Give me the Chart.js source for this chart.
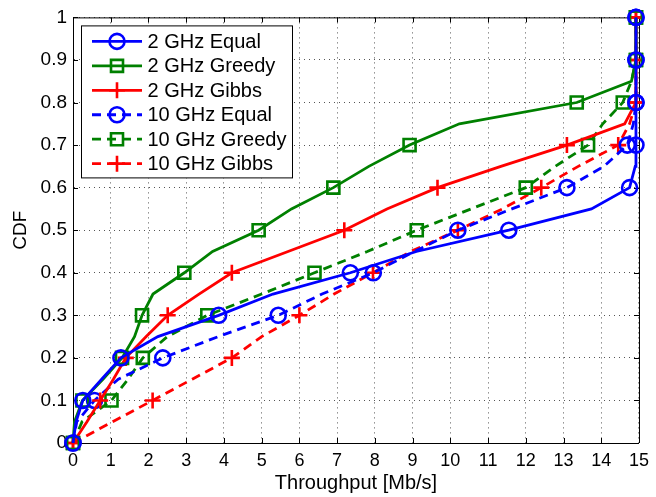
<!DOCTYPE html>
<html>
<head>
<meta charset="utf-8">
<script src="https://cdn.jsdelivr.net/npm/chart.js@4.4.0/dist/chart.umd.min.js"></script>
<style>
    html, body { margin: 0; padding: 0; background: #fff; }
    #wrap { width: 656px; height: 497px; }
</style>
</head>
<body>
<div id="wrap"><canvas id="cdfChart" width="656" height="497"></canvas></div>
<script>
// CDF levels (y) shared by all curves
var cdfLevels = [0, 0.05, 0.1, 0.15, 0.2, 0.25, 0.3, 0.35, 0.4, 0.45, 0.5,
                 0.55, 0.6, 0.65, 0.7, 0.75, 0.8, 0.85, 0.9, 0.95, 1];

// throughput (x) of each curve at those levels
var equal2GHz  = [0, 0.08, 0.26, 0.76, 1.27, 2.25, 3.86, 5.3, 7.35, 9.1, 11.55,
                  13.74, 14.75, 14.9, 14.92, 14.92, 14.92, 14.92, 14.92, 14.92, 14.92];
var greedy2GHz = [0, 0.04, 0.25, 0.8, 1.3, 1.63, 1.83, 2.12, 2.95, 3.7, 4.92,
                  5.79, 6.9, 7.84, 8.92, 10.24, 13.35, 14.8, 14.92, 14.92, 14.92];
var gibbs2GHz  = [0, 0.37, 0.72, 1.07, 1.4, 1.94, 2.51, 3.34, 4.21, 5.7, 7.19,
                  8.32, 9.66, 11.34, 13.09, 14.62, 14.92, 14.92, 14.92, 14.92, 14.92];
var equal10GHz  = [0, 0.1, 0.57, 1.2, 2.38, 3.85, 5.44, 6.6, 7.96, 9.05, 10.2,
                   11.63, 13.09, 14.07, 14.69, 14.85, 14.92, 14.92, 14.92, 14.92, 14.92];
var greedy10GHz = [0, 0.24, 1.02, 1.46, 1.85, 2.5, 3.56, 5.0, 6.4, 7.8, 9.11,
                   10.55, 12.0, 12.78, 13.65, 14.04, 14.57, 14.8, 14.92, 14.92, 14.92];
var gibbs10GHz  = [0, 1.05, 2.11, 3.16, 4.21, 5.0, 6.0, 6.92, 7.95, 8.95, 10.2,
                   11.38, 12.41, 13.39, 14.45, 14.75, 14.92, 14.92, 14.92, 14.92, 14.92];

var seriesLabels = ['2 GHz Equal', '2 GHz Greedy', '2 GHz Gibbs',
                    '10 GHz Equal', '10 GHz Greedy', '10 GHz Gibbs'];
var xTickValues = [0, 1, 2, 3, 4, 5, 6, 7, 8, 9, 10, 11, 12, 13, 14, 15];
var yTickValues = [0, 0.1, 0.2, 0.3, 0.4, 0.5, 0.6, 0.7, 0.8, 0.9, 1];

var fontFamily = "'Liberation Sans', Arial, Helvetica, sans-serif";
var blue = '#0000ff', green = '#008000', red = '#ff0000';
var dashPattern = [9, 6];

function toPoints(xs) {
    return xs.map(function (x, i) { return { x: x, y: cdfLevels[i] }; });
}

// markers only on every 0.1 step of the CDF
function markerRadius(r) {
    return function (ctx) {
        if (!ctx.raw) return r;
        var k = ctx.raw.y * 10;
        return Math.abs(k - Math.round(k)) < 1e-6 ? r : 0;
    };
}

function makeSet(i, xs, color, style, dashed) {
    var r = style === 'circle' ? 7.5 : (style === 'rect' ? 8.5 : 8);
    return {
        label: seriesLabels[i],
        data: toPoints(xs),
        borderColor: color,
        backgroundColor: 'transparent',
        borderWidth: 2.8,
        borderDash: dashed ? dashPattern : [],
        pointStyle: style,
        pointRadius: markerRadius(r),
        pointHoverRadius: markerRadius(r),
        pointBorderColor: color,
        pointBackgroundColor: 'transparent',
        pointBorderWidth: 2.6,
        tension: 0,
        clip: false
    };
}

var datasets = [
    makeSet(0, equal2GHz, blue, 'circle', false),
    makeSet(1, greedy2GHz, green, 'rect', false),
    makeSet(2, gibbs2GHz, red, 'cross', false),
    makeSet(3, equal10GHz, blue, 'circle', true),
    makeSet(4, greedy10GHz, green, 'rect', true),
    makeSet(5, gibbs10GHz, red, 'cross', true)
];

// box round the axes and the inward tick marks (matlab style)
var axesBox = {
    id: 'axesBox',
    beforeDatasetsDraw: function (chart) {
        var ctx = chart.ctx, a = chart.chartArea;
        var xs = chart.scales.x, ys = chart.scales.y;
        ctx.save();
        ctx.strokeStyle = '#000';
        ctx.lineWidth = 1;
        ctx.beginPath();
        ctx.moveTo(a.left, a.top + 0.5);
        ctx.lineTo(a.right + 0.5, a.top + 0.5);
        ctx.lineTo(a.right + 0.5, a.bottom);
        xTickValues.forEach(function (v) {
            var px = Math.round(xs.getPixelForValue(v)) + 0.5;
            ctx.moveTo(px, a.bottom);
            ctx.lineTo(px, a.bottom - 5);
            ctx.moveTo(px, a.top);
            ctx.lineTo(px, a.top + 5);
        });
        yTickValues.forEach(function (v) {
            var py = Math.round(ys.getPixelForValue(v)) + 0.5;
            ctx.moveTo(a.left, py);
            ctx.lineTo(a.left + 5, py);
            ctx.moveTo(a.right, py);
            ctx.lineTo(a.right - 5, py);
        });
        ctx.stroke();
        ctx.restore();
    }
};

function drawMarker(ctx, style, x, y) {
    ctx.beginPath();
    if (style === 'circle') {
        ctx.arc(x, y, 7.5, 0, Math.PI * 2);
    } else if (style === 'rect') {
        ctx.rect(x - 6, y - 6, 12, 12);
    } else {
        ctx.moveTo(x - 8, y);
        ctx.lineTo(x + 8, y);
        ctx.moveTo(x, y - 8);
        ctx.lineTo(x, y + 8);
    }
    ctx.stroke();
}

// legend drawn inside the axes, top left
var insideLegend = {
    id: 'insideLegend',
    afterDraw: function (chart) {
        var ctx = chart.ctx, a = chart.chartArea;
        var bx = a.left + 8.5, by = a.top + 8.5, bw = 211, bh = 152;
        ctx.save();
        ctx.fillStyle = '#fff';
        ctx.fillRect(bx, by, bw, bh);
        ctx.strokeStyle = '#000';
        ctx.lineWidth = 1;
        ctx.strokeRect(bx, by, bw, bh);
        ctx.font = '20px ' + fontFamily;
        ctx.textBaseline = 'middle';
        chart.data.datasets.forEach(function (ds, i) {
            var rowY = by + 15.5 + i * 24.45;
            var x0 = bx + 10.5, x1 = bx + 60.5;
            ctx.strokeStyle = ds.borderColor;
            ctx.lineWidth = 2.8;
            ctx.setLineDash(ds.borderDash);
            ctx.beginPath();
            ctx.moveTo(x0, rowY);
            ctx.lineTo(x1, rowY);
            ctx.stroke();
            ctx.setLineDash([]);
            ctx.lineWidth = 2.6;
            drawMarker(ctx, ds.pointStyle, (x0 + x1) / 2, rowY);
            ctx.fillStyle = '#000';
            ctx.fillText(ds.label, bx + 66, rowY + 1);
        });
        ctx.restore();
    }
};

var ctxCdf = document.getElementById('cdfChart').getContext('2d');
var cdfChart = new Chart(ctxCdf, {
    type: 'line',
    data: { datasets: datasets },
    options: {
        responsive: false,
        animation: false,
        events: [],
        layout: { padding: { top: 16, right: 12, left: 0, bottom: 0 } },
        plugins: {
            legend: { display: false },
            tooltip: { enabled: false }
        },
        scales: {
            x: {
                type: 'linear',
                min: 0,
                max: 15,
                afterBuildTicks: function (scale) {
                    scale.ticks = xTickValues.map(function (v) { return { value: v }; });
                },
                afterFit: function (scale) { scale.height = 54; },
                ticks: {
                    color: '#000',
                    padding: 7,
                    maxRotation: 0,
                    autoSkip: false,
                    font: { family: fontFamily, size: 18 }
                },
                grid: { color: '#555', lineWidth: 1, drawTicks: false },
                border: { display: true, color: '#000', width: 1, dash: [1, 4] },
                title: {
                    display: true,
                    text: 'Throughput [Mb/s]',
                    color: '#000',
                    font: { family: fontFamily, size: 20 },
                    padding: { top: 0, bottom: 2 }
                }
            },
            y: {
                type: 'linear',
                min: 0,
                max: 1,
                afterBuildTicks: function (scale) {
                    scale.ticks = yTickValues.map(function (v) { return { value: v }; });
                },
                afterFit: function (scale) { scale.width = 73; },
                ticks: {
                    color: '#000',
                    padding: 6,
                    autoSkip: false,
                    font: { family: fontFamily, size: 19 },
                    callback: function (value) { return String(value); }
                },
                grid: { color: '#555', lineWidth: 1, drawTicks: false },
                border: { display: true, color: '#000', width: 1, dash: [1, 4] },
                title: {
                    display: true,
                    text: 'CDF',
                    color: '#000',
                    font: { family: fontFamily, size: 19 },
                    padding: { top: 9, bottom: 0 }
                }
            }
        }
    },
    plugins: [axesBox, insideLegend]
});
</script>
</body>
</html>
